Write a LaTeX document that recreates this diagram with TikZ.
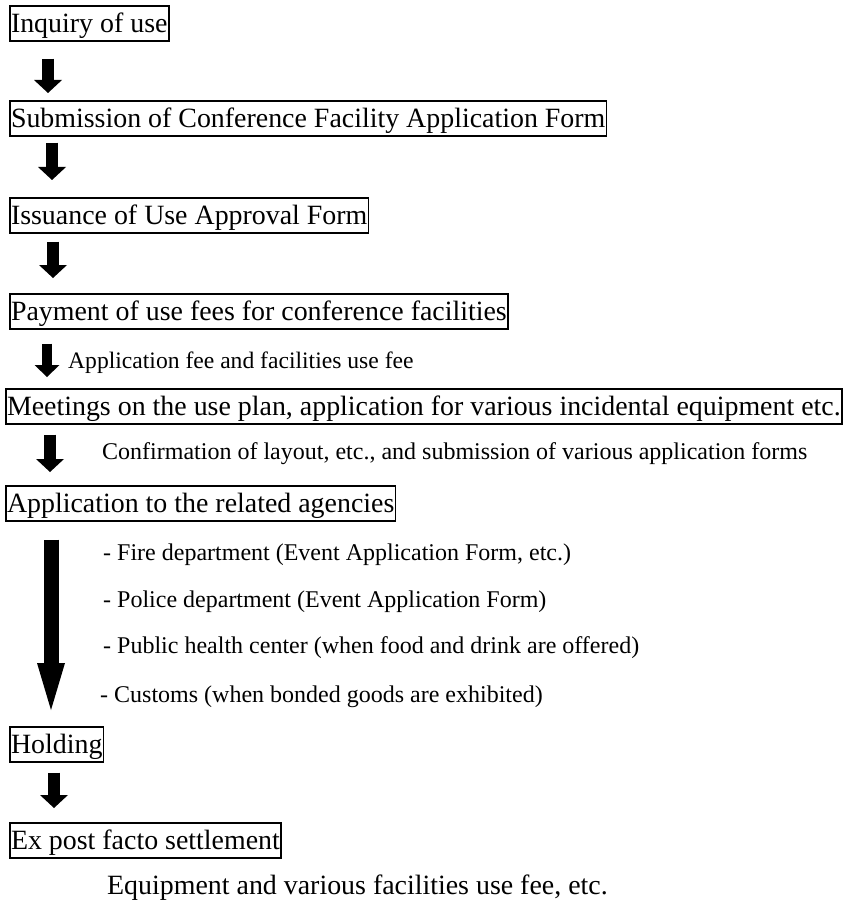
\documentclass[tikz,border=0pt]{standalone}
\usepackage{fontspec}
\setmainfont{Liberation Serif}
\usetikzlibrary{arrows.meta}

\begin{document}
\begin{tikzpicture}[x=1pt,y=-1pt,
  stepbox/.style={draw,line width=1.6pt,anchor=north west,inner xsep=1.2pt,inner ysep=1pt,
    text height=26pt,text depth=7pt,font=\fontsize{27.9}{33}\selectfont},
  note/.style={anchor=base west,inner sep=0pt,font=\fontsize{24}{28}\selectfont},
  flow/.style={line width=12pt,-{Triangle[width=28pt,length=13pt,line width=0pt]}},
  smallflow/.style={line width=10pt,-{Triangle[width=25pt,length=12pt,line width=0pt]}},
  longflow/.style={line width=15pt,-{Triangle[width=28pt,length=47pt,line width=0pt]}}]
  \useasboundingbox (0,0) rectangle (843,904);

  % Steps
  \node[stepbox] (inquiry) at (9,5) {Inquiry of use};
  \node[stepbox] (submit) at (9,100) {Submission of Conference Facility Application Form\ };
  \node[stepbox] (approval) at (9,197) {Issuance of Use Approval Form};
  \node[stepbox] (payment) at (9,293) {Payment of use fees for conference facilities};
  \node[stepbox] (meeting) at (5,388) {Meetings on the use plan, application for various incidental equipment etc.};
  \node[stepbox] (agencies) at (5,485) {Application to the related agencies};
  \node[stepbox] (holding) at (9,726) {Holding};
  \node[stepbox] (settle) at (9,822) {Ex post facto settlement};

  % Notes
  \node[note,font=\fontsize{23.6}{28}\selectfont] (fee) at (68,368) {Application fee and facilities use fee};
  \node[note] (layout) at (102,459) {Confirmation of layout, etc., and submission of various application forms};
  \node[note] (fire) at (103,560) {- Fire department (Event Application Form, etc.)};
  \node[note] (police) at (103,607) {- Police department (Event Application Form)};
  \node[note] (health) at (103,653) {- Public health center (when food and drink are offered)};
  \node[note] (customs) at (100,702) {- Customs (when bonded goods are exhibited)};
  \node[note,font=\fontsize{27.9}{33}\selectfont] (equip) at (107,894) {Equipment and various facilities use fee, etc.};

  \draw[flow,shorten <=17pt,shorten >=7pt] ([xshift=39pt]inquiry.south west)--([xshift=39pt]submit.north west);
  \draw[flow,shorten <=6pt,shorten >=17pt] ([xshift=43pt]submit.south west)--([xshift=43pt]approval.north west);
  \draw[flow,shorten <=8pt,shorten >=15pt] ([xshift=44pt]approval.south west)--([xshift=44pt]payment.north west);
  \draw[smallflow,shorten <=14pt,shorten >=11pt] ([xshift=38pt]payment.south west)--([xshift=38pt]payment.south west |- meeting.north);
  \draw[flow,shorten <=10pt,shorten >=13pt] ([xshift=45pt]meeting.south west)--([xshift=45pt]agencies.north west);
  \draw[longflow,shorten <=18pt,shorten >=16pt] ([xshift=46pt]agencies.south west)--([xshift=46pt]agencies.south west |- holding.north);
  \draw[flow,shorten <=10pt,shorten >=14pt] ([xshift=45pt]holding.south west)--([xshift=45pt]settle.north west);

\end{tikzpicture}
\end{document}
